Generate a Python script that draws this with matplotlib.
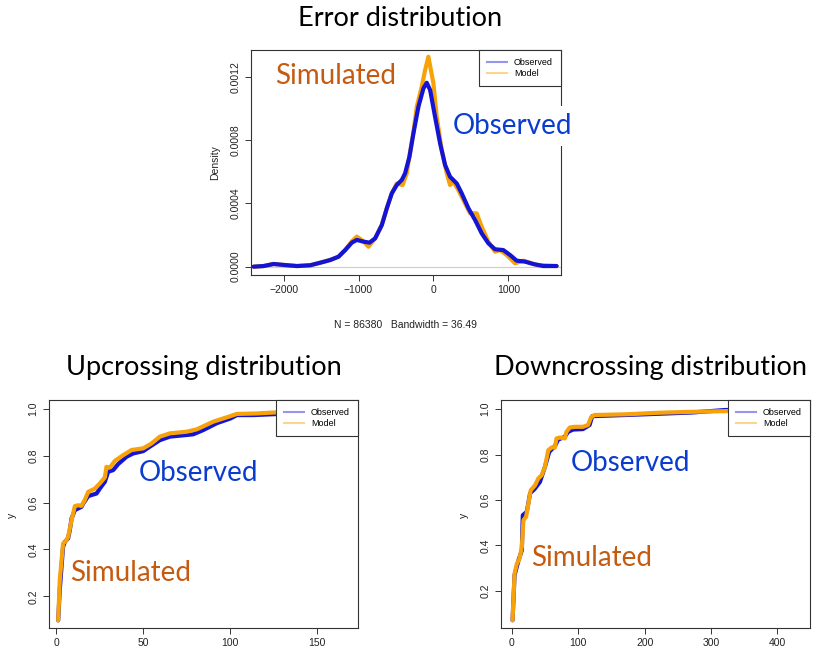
import numpy as np
import matplotlib
matplotlib.use('Agg')
import matplotlib.pyplot as plt

# --- error density (observed vs model) ---
err_x_obs = [-2400, -2267, -2133, -2000, -1822, -1644, -1511, -1378, -1267, -1178,
             -1089, -1022, -933, -853, -778, -689, -622, -556, -489, -422,
             -378, -320, -267, -200, -133, -89, -44, 22, 89, 156,
             222, 311, 378, 467, 556, 644, 733, 822, 933, 1022,
             1111, 1222, 1333, 1467, 1644]
err_y_obs = [0, 4e-6, 1.7e-5, 1.1e-5, 4e-6, 9e-6, 2.5e-5, 4.2e-5, 6.3e-5, 1.05e-4,
             1.52e-4, 1.69e-4, 1.58e-4, 1.52e-4, 1.79e-4, 2.63e-4, 3.69e-4, 4.63e-4, 5.16e-4, 5.48e-4,
             5.9e-4, 6.95e-4, 8.42e-4, 1.011e-3, 1.127e-3, 1.162e-3, 1.116e-3, 9.47e-4, 7.79e-4, 6.42e-4,
             5.68e-4, 5.26e-4, 4.63e-4, 3.69e-4, 2.95e-4, 2.11e-4, 1.48e-4, 1.1e-4, 1.05e-4, 7.4e-5,
             3.8e-5, 3.2e-5, 1.7e-5, 4e-6, 4e-6]

err_x_mod = [-2400, -2267, -2133, -2000, -1822, -1644, -1511, -1378, -1267, -1178,
             -1089, -1022, -933, -867, -778, -689, -622, -556, -489, -411,
             -356, -320, -267, -222, -156, -111, -67, 0, 44, 111,
             178, 222, 267, 333, 400, 489, 578, 644, 733, 822,
             889, 978, 1089, 1200, 1378, 1644]
err_y_mod = [0, 4e-6, 1.7e-5, 1.1e-5, 4e-6, 9e-6, 2.5e-5, 4.2e-5, 6.3e-5, 1.05e-4,
             1.6e-4, 1.9e-4, 1.6e-4, 1.26e-4, 1.79e-4, 2.63e-4, 3.69e-4, 4.63e-4, 5.26e-4, 5.16e-4,
             5.9e-4, 7.0e-4, 8.5e-4, 1.011e-3, 1.137e-3, 1.242e-3, 1.326e-3, 1.158e-3, 9.47e-4, 7.37e-4,
             5.9e-4, 5.16e-4, 5.37e-4, 4.84e-4, 4.21e-4, 3.37e-4, 3.37e-4, 2.53e-4, 1.58e-4, 9.5e-5,
             1.05e-4, 7.4e-5, 2.1e-5, 3.8e-5, 1.1e-5, 4e-6]

# --- upcrossing ECDF ---
up_x_obs = [1, 1.9, 3.8, 4.8, 6.7, 7.7, 8.7, 10.6, 14.4, 15.4, 18.3, 23.1, 25, 27.9, 29.8,
            32.7, 35.6, 40.4, 44.2, 50, 53.8, 59.6, 65.4, 75, 78.8, 84.6, 92.3, 100.4, 104,
            113.5, 135]
up_y_obs = [0.097, 0.226, 0.411, 0.432, 0.447, 0.482, 0.532, 0.568, 0.582, 0.596, 0.628, 0.639,
            0.66, 0.689, 0.732, 0.739, 0.765, 0.796, 0.81, 0.82, 0.839, 0.867, 0.882, 0.889,
            0.892, 0.91, 0.939, 0.96, 0.974, 0.974, 0.981]

up_x_mod = [1, 1.9, 3.8, 5.8, 6.7, 8.7, 10.6, 12.5, 14.4, 16.3, 18.3, 22.1, 25, 27.9, 28.8,
            30.8, 33.7, 38.5, 43.3, 50, 54.8, 59.6, 65.4, 75, 80.8, 90.4, 100.4, 104, 115.4,
            135]
up_y_mod = [0.097, 0.268, 0.425, 0.44, 0.454, 0.525, 0.585, 0.589, 0.586, 0.611, 0.646, 0.66,
            0.682, 0.708, 0.753, 0.75, 0.779, 0.803, 0.825, 0.832, 0.853, 0.882, 0.896, 0.903,
            0.913, 0.946, 0.97, 0.979, 0.981, 0.989]

# --- downcrossing ECDF ---
dn_x_obs = [1, 4, 10, 15, 16.4, 22.4, 27.4, 34.9, 42.3, 49.8, 56.3, 64.8, 69.7, 79.7, 84.7,
            92.2, 107, 117, 121, 171.9, 271.5, 321.3, 341]
dn_y_obs = [0.071, 0.269, 0.335, 0.379, 0.533, 0.548, 0.629, 0.651, 0.68, 0.746, 0.812, 0.837,
            0.866, 0.878, 0.9, 0.91, 0.912, 0.93, 0.969, 0.974, 0.985, 0.996, 0.996]

dn_x_mod = [1, 4, 7.5, 11.5, 15, 17.4, 21.4, 24, 28.4, 34.9, 39.8, 44.8, 49.8, 54.8, 59.8,
            64.8, 67.2, 72.2, 79.7, 82.2, 87.2, 94.6, 107, 114.6, 119.6, 124.5, 171.9, 221.7,
            271.5, 321.3, 341]
dn_y_mod = [0.071, 0.276, 0.32, 0.342, 0.394, 0.511, 0.526, 0.57, 0.643, 0.665, 0.695, 0.709,
            0.746, 0.819, 0.831, 0.831, 0.871, 0.875, 0.871, 0.9, 0.919, 0.922, 0.922, 0.93,
            0.966, 0.974, 0.977, 0.984, 0.988, 0.991, 0.993]

BLUE = '#1414d4'
ORANGE = '#f8a20a'
SIM_COL = '#c55a11'
OBS_COL = '#0a3ccf'
W, H = 814, 659

fig = plt.figure(figsize=(W / 100, H / 100), dpi=100)


def px_axes(left, top, right, bottom):
    return fig.add_axes([left / W, 1 - bottom / H, (right - left) / W, (bottom - top) / H])


def r_style(ax):
    for s in ax.spines.values():
        s.set_color('#333333')
        s.set_linewidth(0.8)
    ax.tick_params(direction='out', length=4, width=0.7, color='#333333',
                   labelsize=7.5, labelcolor='#222222')
    for lab in ax.get_xticklabels() + ax.get_yticklabels():
        lab.set_family('Liberation Sans')
    for lab in ax.get_yticklabels():
        lab.set_rotation(90)
        lab.set_va('center')


def r_legend(ax):
    h1, = ax.plot([], [], color=BLUE, alpha=0.45, lw=1.5, label='Observed')
    h2, = ax.plot([], [], color=ORANGE, alpha=0.45, lw=1.5, label='Model')
    leg = ax.legend(handles=[h1, h2], loc='upper right', borderaxespad=0,
                    fancybox=False, framealpha=1, edgecolor='#333333',
                    prop={'family': 'Liberation Sans', 'size': 6.5},
                    handlelength=2.2, borderpad=0.9, labelspacing=0.2)
    leg.get_frame().set_linewidth(0.8)


def fig_text(x, y, s, **kw):
    fig.text(x / W, 1 - y / H, s, ha='center', va='center', **kw)


line_kw = dict(lw=3.0, solid_joinstyle='round', solid_capstyle='round')

# top: density of errors
ax1 = px_axes(251, 50, 561, 275)
ax1.axhline(0, color='#cccccc', lw=0.8)
ax1.plot(err_x_mod, err_y_mod, color=ORANGE, **line_kw)
ax1.plot(err_x_obs, err_y_obs, color=BLUE, **line_kw)
ax1.set_xlim(-2435, 1703)
ax1.set_ylim(-0.0000526, 0.001369)
ax1.set_xticks([-2000, -1000, 0, 1000])
ax1.set_yticks([0, 0.0004, 0.0008, 0.0012])
ax1.set_yticklabels(['0.0000', '0.0004', '0.0008', '0.0012'])
r_style(ax1)
r_legend(ax1)

# bottom left: upcrossing
ax2 = px_axes(49, 400, 358, 628)
ax2.plot(up_x_obs, up_y_obs, color=BLUE, **line_kw)
ax2.plot(up_x_mod, up_y_mod, color=ORANGE, **line_kw)
ax2.set_xlim(-4.3, 173.8)
ax2.set_ylim(0.0644, 1.0385)
ax2.set_xticks([0, 50, 100, 150])
ax2.set_yticks([0.2, 0.4, 0.6, 0.8, 1.0])
r_style(ax2)
r_legend(ax2)

# bottom right: downcrossing
ax3 = px_axes(501, 400, 810, 628)
ax3.plot(dn_x_obs, dn_y_obs, color=BLUE, **line_kw)
ax3.plot(dn_x_mod, dn_y_mod, color=ORANGE, **line_kw)
ax3.set_xlim(-16.4, 449)
ax3.set_ylim(0.037, 1.04)
ax3.set_xticks([0, 100, 200, 300, 400])
ax3.set_yticks([0.2, 0.4, 0.6, 0.8, 1.0])
r_style(ax3)
r_legend(ax3)

# axis labels in R's small sans
small = dict(family='Liberation Sans', fontsize=7.5, color='#222222')
fig_text(215, 163, 'Density', rotation=90, **small)
fig_text(405, 325, 'N = 86380   Bandwidth = 36.49', **small)
fig_text(12, 515, 'y', rotation=90, **small)
fig_text(464, 515, 'y', rotation=90, **small)

# panel titles
title = dict(family='Lato', fontsize=19.5, color='black')
fig_text(400, 18, 'Error distribution', **title)
fig_text(204, 367, 'Upcrossing distribution', **title)
fig_text(651, 367, 'Downcrossing distribution', **title)

# callouts
call = dict(family='Lato', fontsize=20)
fig_text(336, 76, 'Simulated', color=SIM_COL, **call)
fig_text(512, 126, 'Observed', color=OBS_COL,
         bbox=dict(facecolor='white', edgecolor='none', pad=5), **call)
fig_text(199, 473, 'Observed', color=OBS_COL, **call)
fig_text(131, 573, 'Simulated', color=SIM_COL, **call)
fig_text(630, 463, 'Observed', color=OBS_COL, **call)
fig_text(592, 558, 'Simulated', color=SIM_COL, **call)

fig.savefig('out.png', dpi=100)
